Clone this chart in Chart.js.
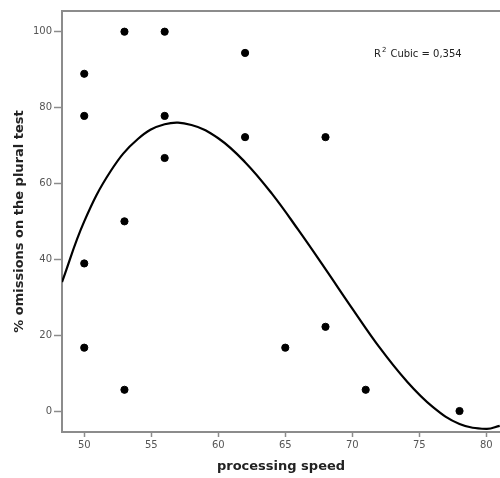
<!DOCTYPE html>
<html>
<head>
<meta charset="utf-8">
<script src="https://cdn.jsdelivr.net/npm/chart.js@4/dist/chart.umd.min.js"></script>
<style>
  html, body { margin: 0; padding: 0; background: #fff; }
</style>
</head>
<body>
<canvas id="chart" width="500" height="478"></canvas>
<script>
// observed values (processing speed vs % omissions)
const speedValues = [50, 50, 50, 50, 53, 53, 53, 56, 56, 56, 62, 62, 65, 68, 68, 71, 78];
const omissionValues = [88.9, 77.8, 38.9, 16.7, 100, 50, 5.6, 100, 77.8, 66.7, 94.4, 72.2, 16.7, 72.2, 22.2, 5.6, 0];

// cubic fit line
const fitX = [48.34, 50, 52, 54, 56, 58, 60, 62, 64, 66, 68, 70, 72, 74, 76, 78, 80, 81];
const fitY = [34.0, 50.0, 63.4, 71.7, 75.6, 75.4, 71.9, 65.6, 57.3, 47.6, 37.4, 27.0, 16.9, 8.1, 1.1, -3.4, -4.7, -3.9];

const xTicks = [50, 55, 60, 65, 70, 75, 80];
const yTicks = [0, 20, 40, 60, 80, 100];
const fitLabel = 'Cubic = 0,354';

const axisGray = '#8c8c8c';
const tickFont = { family: 'DejaVu Sans', size: 10 };

// top frame line + R² annotation
const extras = {
    id: 'extras',
    afterDatasetsDraw(chart) {
        const { ctx, chartArea } = chart;
        ctx.save();
        ctx.strokeStyle = axisGray;
        ctx.lineWidth = 2;
        ctx.beginPath();
        ctx.moveTo(chartArea.left, chartArea.top);
        ctx.lineTo(chartArea.right, chartArea.top);
        ctx.stroke();

        ctx.fillStyle = '#222';
        ctx.textBaseline = 'alphabetic';
        ctx.font = '10px "DejaVu Sans"';
        let x = 374, y = 57;
        ctx.fillText('R', x, y);
        x += ctx.measureText('R').width + 1;
        ctx.font = '7px "DejaVu Sans"';
        ctx.fillText('2', x, y - 5);
        x += ctx.measureText('2').width + 4;
        ctx.font = '10px "DejaVu Sans"';
        ctx.fillText(fitLabel, x, y);
        ctx.restore();
    }
};

const points = speedValues.map((v, i) => ({ x: v, y: omissionValues[i] }));
const fitLine = fitX.map((v, i) => ({ x: v, y: fitY[i] }));

new Chart(document.getElementById('chart'), {
    type: 'scatter',
    data: {
        datasets: [
            {
                label: 'observed',
                data: points,
                backgroundColor: '#000',
                borderColor: '#000',
                pointRadius: 3.6,
                pointHoverRadius: 3.6
            },
            {
                label: 'cubic',
                type: 'line',
                data: fitLine,
                borderColor: '#000',
                borderWidth: 2.2,
                pointRadius: 0,
                tension: 0.4,
                fill: false
            }
        ]
    },
    options: {
        responsive: false,
        animation: false,
        devicePixelRatio: 1,
        layout: { autoPadding: false, padding: { top: 11, right: 0, left: 0, bottom: 0 } },
        plugins: { legend: { display: false }, tooltip: { enabled: false } },
        scales: {
            x: {
                type: 'linear',
                min: 48.34,
                max: 81.02,
                afterFit: s => { s.height = 46; s.paddingLeft = 0; s.paddingRight = 0; },
                afterBuildTicks: s => { s.ticks = xTicks.map(v => ({ value: v })); },
                ticks: { color: '#555', font: tickFont, padding: 2, maxRotation: 0 },
                grid: { drawOnChartArea: false, drawTicks: true, tickLength: 5, tickColor: axisGray, tickWidth: 1.5 },
                border: { color: axisGray, width: 2 },
                title: {
                    display: true,
                    text: 'processing speed',
                    color: '#222',
                    font: { family: 'DejaVu Sans', size: 13, weight: 'bold' },
                    padding: { top: 0, bottom: 4 }
                }
            },
            y: {
                type: 'linear',
                min: -5.53,
                max: 105.45,
                afterFit: s => { s.width = 62; s.paddingTop = 0; s.paddingBottom = 0; },
                afterBuildTicks: s => { s.ticks = yTicks.map(v => ({ value: v })); },
                ticks: { color: '#555', font: tickFont, padding: 2 },
                grid: { drawOnChartArea: false, drawTicks: true, tickLength: 8, tickColor: axisGray, tickWidth: 1.5 },
                border: { color: axisGray, width: 2 },
                title: {
                    display: true,
                    text: '% omissions on the plural test',
                    color: '#222',
                    font: { family: 'DejaVu Sans', size: 13, weight: 'bold' },
                    padding: { top: 12, bottom: 0 }
                }
            }
        }
    },
    plugins: [extras]
});
</script>
</body>
</html>
